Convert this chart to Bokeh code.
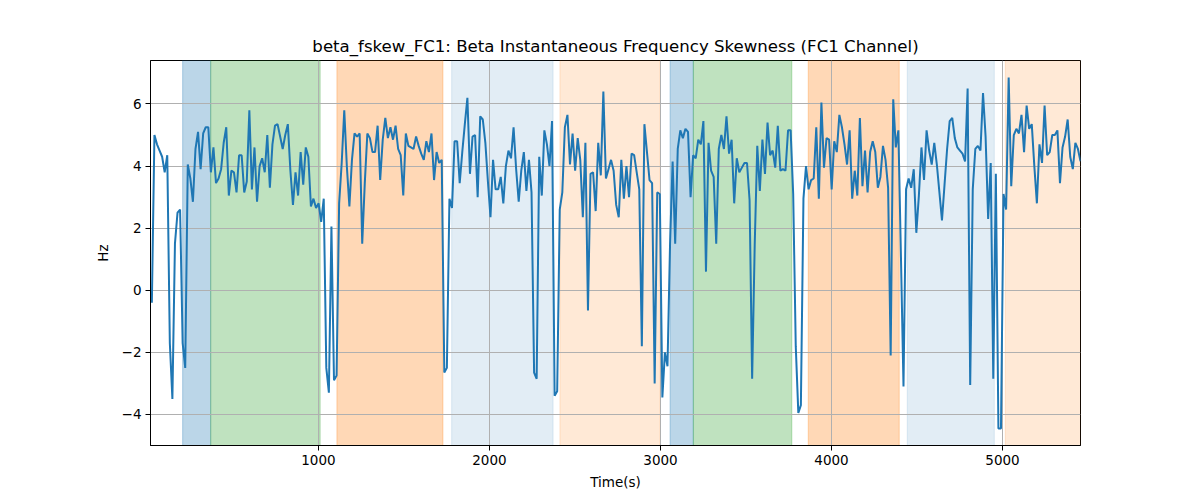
import numpy as np
from bokeh.plotting import figure
from bokeh.models import Range1d, FixedTicker, CustomJSTickFormatter
from bokeh.embed import file_html
from bokeh.resources import INLINE

# sampled signal (Hz), one value every 15 s
hz = [
    -0.4, 5.0, 4.7, 4.5, 4.3, 3.8, 4.35, -1.7, -3.5, 1.5, 2.5, 2.6, -1.7, -2.5, 4.05,
    3.6, 2.85, 4.55, 5.1, 3.9, 5.05, 5.25, 5.25, 3.8, 4.6, 3.45, 3.6, 3.9, 4.75, 5.25,
    3.05, 3.85, 3.8, 3.15, 4.35, 4.35, 3.15, 3.5, 5.8, 3.25, 4.6, 2.85, 4.0, 4.25,
    3.8, 5.0, 3.3, 4.7, 5.3, 5.35, 4.95, 4.55, 5.0, 5.35, 3.85, 2.75, 3.8, 3.05, 4.45,
    3.4, 4.6, 4.3, 2.7, 2.95, 2.65, 2.8, 2.2, 2.95, -2.5, -3.3, 2.05, -2.9, -2.75, 2.8,
    4.1, 5.8, 4.0, 2.7, 4.2, 5.05, 4.95, 5.05, 1.5, 3.45, 5.05, 4.9, 4.45, 4.45, 5.3,
    3.55, 4.85,
    5.55, 4.9, 5.25, 4.85, 5.3, 4.55, 4.35, 3.05, 5.05, 4.65, 4.6, 4.55, 4.95, 4.65, 4.4,
    4.2, 4.8, 4.45, 5.05, 3.55, 4.45, 4.1, 4.2, -2.65, -2.5, 2.95, 2.65, 4.8, 4.8, 3.45,
    4.45, 5.35, 6.2, 3.75, 4.95, 5.0, 3.0, 5.6, 5.5, 4.75, 3.5, 2.35, 4.2, 3.25, 3.25,
    3.65, 2.8,
    4.0, 4.5, 4.25, 5.25, 3.9, 2.85, 3.85, 4.45, 3.2, 4.2, 3.15, -2.65, -2.85, 4.3, 3.05,
    5.15, 4.7, 4.0, 5.45, -3.4, -3.25, 2.6, 3.15, 5.25, 5.65, 4.05, 5.05, 3.85, 4.9, 4.2,
    2.35, 4.75, -0.65, 3.75, 3.8, 2.55, 4.75, 3.7, 6.4, 3.6, 3.9, 4.2, 3.85, 2.75, 2.35,
    4.2, 2.95,
    4.0, 3.0, 4.4, 4.35, 3.8, 3.25, -1.8, 5.35, 4.45, 3.55, 3.45, -3.0, 3.15, 3.1, -3.45,
    -2.0, -2.45, 1.5, 4.15, 1.5, 4.55, 5.15, 4.9, 5.2, 5.1, 3.0, 4.35, 4.25, 4.85, 4.7,
    5.45, 0.6, 4.75, 3.85, 3.65, 1.5, 4.55, 5.0, 4.55, 5.6, 4.4, 4.85, 2.8, 4.25, 3.8,
    3.95, 4.1,
    4.1, 2.9, -2.85, 1.45, 4.65, 3.2, 4.85, 3.75, 5.4, 4.35, 4.5, 3.95, 5.3, 3.85, 3.9,
    3.85, 5.15, 5.15, 3.1, -1.8, -3.95, -3.7, 2.95, 4.0, 3.25, 3.55, 3.6, 5.25, 2.95, 6.05,
    3.95, 4.9, 4.85, 3.25, 4.8, 4.45, 5.65, 5.25, 4.7, 4.05, 5.15, 2.95, 3.85, 3.05, 5.55,
    3.35, 4.5,
    3.15, 4.45, 4.8, 4.45, 3.3, 3.65, 4.65, 4.2, 3.3, -2.1, 6.15, 4.6, 5.15, 1.1, -3.1,
    3.25, 3.6, 3.3, 3.9, 1.85, 3.05, 4.6, 3.55, 5.15, 4.5, 4.05, 4.75, 4.05, 3.15, 2.25,
    3.4, 4.55, 5.45, 5.55, 4.9, 4.6, 4.5, 4.4, 4.15, 6.5, -3.05, 3.25, 4.55, 4.65, 4.5,
    6.35, 4.95,
    2.3, 4.1, -2.85, 3.75, -4.45, -4.45, 3.1, 2.6, 6.85, 3.35, 5.0, 5.2, 5.05, 5.65, 4.45,
    5.95, 5.2, 5.35, 4.0, 2.8, 4.7, 4.1, 5.95, 4.35, 4.45, 5.0, 5.0, 5.15, 3.45, 4.6,
    4.95, 5.5, 4.3, 3.9, 4.75, 4.55, 4.15,
]
t_first = 26
t_step = 15
times = t_first + t_step * np.arange(len(hz))

# shaded phases
span_start = [206, 370, 1108, 1779, 2412, 3056, 3192, 3864, 4443, 5016]
span_end = [370, 1010, 1728, 2372, 2998, 3192, 3768, 4396, 4952, 5470]
span_color = ["#1f77b4", "#2ca02c", "#ff7f0e", "#1f77b4", "#ff7f0e",
              "#1f77b4", "#2ca02c", "#ff7f0e", "#1f77b4", "#ff7f0e"]
span_alpha = [0.3, 0.3, 0.3, 0.13, 0.17, 0.3, 0.3, 0.3, 0.13, 0.17]

x_ticks = [1000, 2000, 3000, 4000, 5000]
y_ticks = [-4, -2, 0, 2, 4, 6]
y_lo, y_hi = -5.0, 7.4

p = figure(width=1200, height=500, output_backend="svg", toolbar_location=None,
           x_range=Range1d(18, 5456), y_range=Range1d(y_lo, y_hi),
           min_border_left=150, min_border_right=120, min_border_top=60,
           min_border_bottom=55,
           title="beta_fskew_FC1: Beta Instantaneous Frequency Skewness (FC1 Channel)")
p.frame_width = 930
p.frame_height = 385

spans = p.quad(left=span_start, right=span_end,
               bottom=[y_lo - 1] * len(span_start), top=[y_hi + 1] * len(span_start),
               fill_color=span_color, fill_alpha=span_alpha,
               line_color=span_color, line_alpha=span_alpha, line_width=1)
spans.level = "image"

p.line(times, hz, line_color="#1f77b4", line_width=2)

p.title.align = "center"
p.title.text_font = "DejaVu Sans"
p.title.text_font_size = "16.6px"
p.title.text_font_style = "normal"
p.title.text_color = "black"

p.xaxis.axis_label = "Time(s)"
p.yaxis.axis_label = "Hz"
p.xaxis.ticker = FixedTicker(ticks=x_ticks)
p.yaxis.ticker = FixedTicker(ticks=y_ticks)
p.yaxis.formatter = CustomJSTickFormatter(
    code="return (tick < 0 ? '\u2212' : '') + Math.abs(tick).toFixed(0);")
for ax in (p.xaxis, p.yaxis):
    ax.axis_label_text_font = "DejaVu Sans"
    ax.axis_label_text_font_size = "13.5px"
    ax.axis_label_text_font_style = "normal"
    ax.axis_label_text_color = "black"
    ax.major_label_text_font = "DejaVu Sans"
    ax.major_label_text_font_size = "13.5px"
    ax.major_label_text_color = "black"
    ax.axis_line_color = "black"
    ax.major_tick_line_color = "black"
    ax.major_tick_out = 5
    ax.major_tick_in = 0
    ax.minor_tick_line_color = None
    ax.major_label_standoff = 4
p.xaxis.axis_label_standoff = 6
p.yaxis.axis_label_standoff = 8

p.grid.grid_line_color = "#b0b0b0"
p.grid.grid_line_width = 1
p.outline_line_color = "black"
p.outline_line_width = 1

open("out.html", "w").write(file_html(p, INLINE))
